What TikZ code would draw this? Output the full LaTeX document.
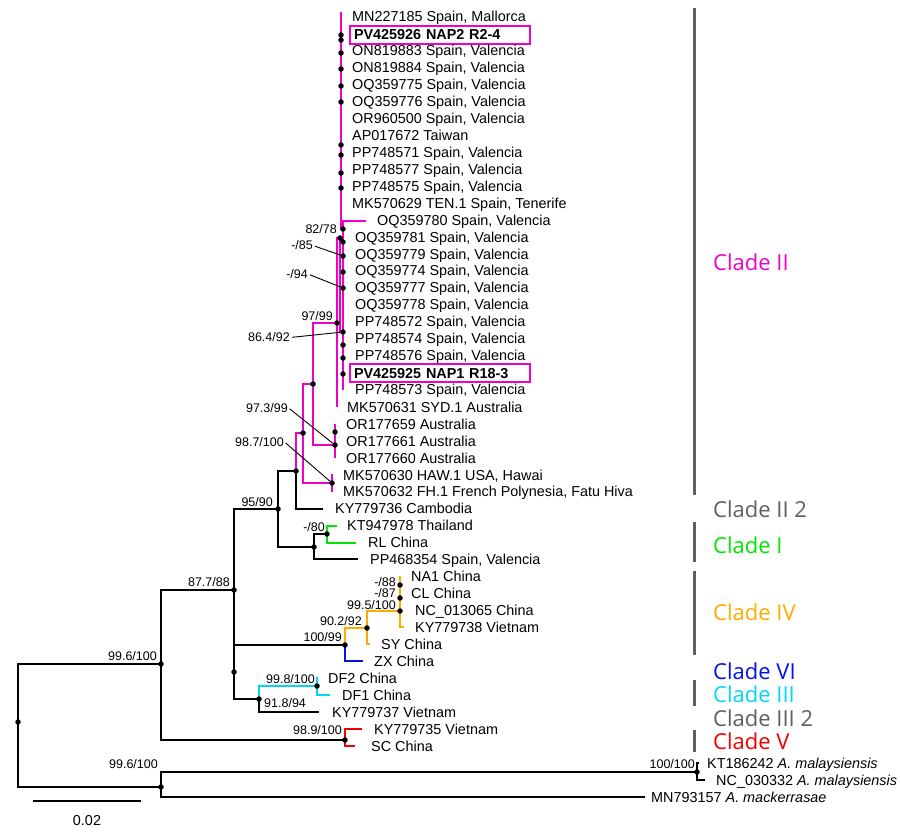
\documentclass[tikz,border=0pt]{standalone}
\usepackage{fontspec}
\setmainfont{Liberation Sans}
\newfontfamily\cladefam{Open Sans}

\definecolor{cpink}{RGB}{240,0,200}
\definecolor{cgreen}{RGB}{0,230,0}
\definecolor{corange}{RGB}{255,170,0}
\definecolor{cblue}{RGB}{0,20,230}
\definecolor{ccyan}{RGB}{0,215,245}
\definecolor{cred}{RGB}{240,0,0}
\definecolor{cgray}{RGB}{95,95,95}

\newcommand{\taxsize}{\fontsize{14.4}{17}\selectfont}
\newcommand{\bssize}{\fontsize{12.5}{14}\selectfont}
\newcommand{\cladesize}{\cladefam\fontsize{22}{26}\selectfont}

\tikzset{
  br/.style={line width=2pt},
  pk/.style={br, draw=cpink},
  gr/.style={br, draw=cgreen},
  og/.style={br, draw=corange},
  bl/.style={br, draw=cblue},
  cy/.style={br, draw=ccyan},
  rd/.style={br, draw=cred},
  nd/.style={circle, fill=black, inner sep=0pt, minimum size=5.5pt},
  tax/.style={anchor=west, inner sep=0pt, font=\taxsize, text height=10.5pt, text depth=0.5pt},
  boxtax/.style={anchor=west, draw=cpink, line width=2pt, inner xsep=4pt, inner ysep=0pt,
    text width=172pt, minimum height=18pt, font=\taxsize\bfseries, text height=10.5pt, text depth=0.5pt},
  bs/.style={anchor=base east, inner sep=0pt, font=\bssize},
  lead/.style={line width=0.9pt, shorten <=2pt},
  clade/.style={anchor=west, inner sep=0pt, font=\cladesize},
  cbar/.style={line width=3pt, draw=cgray}
}

\begin{document}
\begin{tikzpicture}[x=1pt, y=-1pt]

\useasboundingbox (0,0) rectangle (900,834);

% Noeuds internes
\coordinate (root) at (18,722);
\coordinate (ing) at (161,664);
\coordinate (outg) at (161,787);
\coordinate (n877) at (234,590);
\coordinate (nB) at (234,672);
\coordinate (n9590) at (278,509);
\coordinate (nII) at (296,471);
\coordinate (nIIa) at (303,433);
\coordinate (nIIb) at (313,384);
\coordinate (n9799) at (337,323);
\coordinate (n8278) at (340,238);
\coordinate (nM238) at (343,238);
\coordinate (n864) at (343,332);
\coordinate (n7878) at (343,229);
\coordinate (nAus) at (335,445);
\coordinate (nHaw) at (332,483);
\coordinate (nI) at (314,547);
\coordinate (n80) at (327,534);
\coordinate (n10099) at (345,645);
\coordinate (n902) at (367,628);
\coordinate (n995) at (400,611);
\coordinate (n918) at (259,699);
\coordinate (n998) at (317,686);
\coordinate (n989) at (345,740);
\coordinate (n100) at (697,772);

% Extremites des branches
\coordinate (tMN227) at (341,12);
\coordinate (tOQ780) at (366,221);
\coordinate (tPP573) at (343,390);
\coordinate (tMK631) at (337,407);
\coordinate (tAus1) at (335,424);
\coordinate (tAus3) at (335,458);
\coordinate (tHaw1) at (332,474);
\coordinate (tHaw2) at (332,492);
\coordinate (tKY736) at (323,508.5);
\coordinate (tKT947) at (337,525.5);
\coordinate (tRL) at (356,542.5);
\coordinate (tPP468) at (358,559);
\coordinate (tNA1) at (400,576);
\coordinate (tKY738) at (404,627);
\coordinate (tSY) at (370,644);
\coordinate (tZX) at (363,661);
\coordinate (tDF2) at (317,677);
\coordinate (tDF1) at (330,695);
\coordinate (tKY737) at (319,712);
\coordinate (tKY735) at (362,729);
\coordinate (tSC) at (355,746);
\coordinate (tKT) at (699,763);
\coordinate (tNC) at (705,780);
\coordinate (tMN) at (645,797);

% Branches noires
\draw[br] (root) |- (ing);
\draw[br] (root) |- (outg);
\draw[br] (ing) |- (n877);
\draw[br] (ing) |- (n989);
\draw[br] (n877) |- (n9590);
\draw[br] (n877) -- (nB);
\draw[br] (nB) |- (n10099);
\draw[br] (nB) |- (n918);
\draw[br] (n9590) |- (nII);
\draw[br] (n9590) |- (nI);
\draw[br] (nII) |- (tKY736);
\draw[br] (nI) |- (n80);
\draw[br] (nI) |- (tPP468);
\draw[br] (n918) |- (tKY737);
\draw[br] (outg) |- (n100);
\draw[br] (outg) |- (tMN);
\draw[br] (n100) |- (tKT);
\draw[br] (n100) |- (tNC);

% Clade II
\draw[pk] (nII) |- (nIIa);
\draw[pk] (nIIa) |- (nIIb);
\draw[pk] (nIIa) |- (nHaw);
\draw[pk] (nIIb) |- (n9799);
\draw[pk] (nIIb) |- (nAus);
\draw[pk] (tHaw1) -- (tHaw2);
\draw[pk] (tAus1) -- (tAus3);
\draw[pk] (n9799) |- (nM238);
\draw[pk] (n9799) -- (tMK631);
\draw[pk] (n8278) |- (n864);
\draw[pk] (tMN227) |- (n7878);
\draw[pk] (tOQ780) -| (tPP573);

% Clades I, IV, VI, III, V
\draw[gr] (n80) |- (tKT947);
\draw[gr] (n80) |- (tRL);
\draw[og] (n10099) |- (n902);
\draw[bl] (n10099) |- (tZX);
\draw[og] (n902) |- (n995);
\draw[og] (n902) |- (tSY);
\draw[og] (n995) -- (tNA1);
\draw[og] (n995) |- (tKY738);
\draw[cy] (n918) |- (n998);
\draw[cy] (n998) -- (tDF2);
\draw[cy] (n998) |- (tDF1);
\draw[rd] (n989) |- (tKY735);
\draw[rd] (n989) |- (tSC);

% Points des noeuds
\node[nd] (d35) at (341,35) {};
\node[nd] (d40) at (341,40) {};
\node[nd] (d53) at (341,53) {};
\node[nd] (d69) at (341,69) {};
\node[nd] (d86) at (341,86) {};
\node[nd] (d102) at (341,102) {};
\node[nd] (d145) at (341,145) {};
\node[nd] (d155) at (341,155) {};
\node[nd] (d173) at (341,173) {};
\node[nd] (d188) at (341,188) {};
\node[nd] (d229) at (n7878) {};
\node[nd] (d238) at (n8278) {};
\node[nd] (d242) at (343,242) {};
\node[nd] (d256) at (343,256) {};
\node[nd] (d272) at (343,272) {};
\node[nd] (d288) at (343,288) {};
\node[nd] (d323) at (n9799) {};
\node[nd] (d332) at (n864) {};
\node[nd] (d345) at (343,345) {};
\node[nd] (d358) at (343,358) {};
\node[nd] (d374) at (343,374) {};
\node[nd] (d384) at (nIIb) {};
\node[nd] (d432) at (335,432) {};
\node[nd] (d445) at (nAus) {};
\node[nd] (d433) at (nIIa) {};
\node[nd] (d471) at (nII) {};
\node[nd] (d483) at (nHaw) {};
\node[nd] (d509) at (n9590) {};
\node[nd] (d534) at (n80) {};
\node[nd] (d547) at (nI) {};
\node[nd] (d590) at (n877) {};
\node[nd] (d585) at (400,585) {};
\node[nd] (d598) at (400,598) {};
\node[nd] (d611) at (n995) {};
\node[nd] (d628) at (n902) {};
\node[nd] (d645) at (n10099) {};
\node[nd] (d664) at (ing) {};
\node[nd] (d672) at (nB) {};
\node[nd] (d686) at (n998) {};
\node[nd] (d699) at (n918) {};
\node[nd] (d722) at (root) {};
\node[nd] (d740) at (n989) {};
\node[nd] (d772) at (n100) {};
\node[nd] (d787) at (outg) {};

% Valeurs de support
\node[bs] (b8278) at (337,234) {82/78};
\node[bs] (b85) at (313,250) {-/85};
\node[bs] (b94) at (308,278.5) {-/94};
\node[bs] (b9799) at (333,320.5) {97/99};
\node[bs] (b864) at (290,342) {86.4/92};
\node[bs] (b973) at (288,412) {97.3/99};
\node[bs] (b987) at (284,446) {98.7/100};
\node[bs] (b9590) at (273,506.5) {95/90};
\node[bs] (b80) at (325,531.5) {-/80};
\node[bs] (b877) at (230,586.5) {87.7/88};
\node[bs] (b88) at (396,586.5) {-/88};
\node[bs] (b87) at (396,597.5) {-/87};
\node[bs] (b995) at (396,609.5) {99.5/100};
\node[bs] (b902) at (362,625.5) {90.2/92};
\node[bs] (b10099) at (342,641.5) {100/99};
\node[bs] (b996a) at (157,660.5) {99.6/100};
\node[bs] (b998) at (315,683.5) {99.8/100};
\node[bs, anchor=base west] (b918) at (264,707) {91.8/94};
\node[bs] (b989) at (342,734.5) {98.9/100};
\node[bs] (b996b) at (158,768.5) {99.6/100};
\node[bs] (b100) at (695,768.5) {100/100};

% Traits de rappel
\draw[lead] (b85.east) -- (d256);
\draw[lead] (b94.east) -- (d288);
\draw[lead] (b864.east) -- (d332);
\draw[lead] (b973.east) -- (d445);
\draw[lead] (b987.east) -- (d483);

% Taxons
\node[tax] (MN227185) at (352,17) {MN227185 Spain, Mallorca};
\node[boxtax] (PV425926) at (349,35) {PV425926 NAP2 R2-4};
\node[tax] (ON819883) at (352,51) {ON819883 Spain, Valencia};
\node[tax] (ON819884) at (352,68) {ON819884 Spain, Valencia};
\node[tax] (OQ359775) at (352,85) {OQ359775 Spain, Valencia};
\node[tax] (OQ359776) at (352,102) {OQ359776 Spain, Valencia};
\node[tax] (OR960500) at (352,119) {OR960500 Spain, Valencia};
\node[tax] (AP017672) at (352,136) {AP017672 Taiwan};
\node[tax] (PP748571) at (352,153) {PP748571 Spain, Valencia};
\node[tax] (PP748577) at (352,170) {PP748577 Spain, Valencia};
\node[tax] (PP748575) at (352,186.5) {PP748575 Spain, Valencia};
\node[tax] (MK570629) at (352,203.5) {MK570629 TEN.1 Spain, Tenerife};
\node[tax] (OQ359780) at (377,220.5) {OQ359780 Spain, Valencia};
\node[tax] (OQ359781) at (355,237.5) {OQ359781 Spain, Valencia};
\node[tax] (OQ359779) at (355,254.5) {OQ359779 Spain, Valencia};
\node[tax] (OQ359774) at (355,271) {OQ359774 Spain, Valencia};
\node[tax] (OQ359777) at (355,288) {OQ359777 Spain, Valencia};
\node[tax] (OQ359778) at (355,305) {OQ359778 Spain, Valencia};
\node[tax] (PP748572) at (355,322) {PP748572 Spain, Valencia};
\node[tax] (PP748574) at (355,339) {PP748574 Spain, Valencia};
\node[tax] (PP748576) at (355,356) {PP748576 Spain, Valencia};
\node[boxtax] (PV425925) at (349,373) {PV425925 NAP1 R18-3};
\node[tax] (PP748573) at (355,390) {PP748573 Spain, Valencia};
\node[tax] (MK570631) at (347,407) {MK570631 SYD.1 Australia};
\node[tax] (OR177659) at (346,424) {OR177659 Australia};
\node[tax] (OR177661) at (346,441) {OR177661 Australia};
\node[tax] (OR177660) at (346,458) {OR177660 Australia};
\node[tax] (MK570630) at (343,475) {MK570630 HAW.1 USA, Hawai};
\node[tax] (MK570632) at (343,491.5) {MK570632 FH.1 French Polynesia, Fatu Hiva};
\node[tax] (KY779736) at (335,508.5) {KY779736 Cambodia};
\node[tax] (KT947978) at (347,525.5) {KT947978 Thailand};
\node[tax] (RL) at (368,542.5) {RL China};
\node[tax] (PP468354) at (370,559) {PP468354 Spain, Valencia};
\node[tax] (NA1) at (411,576) {NA1 China};
\node[tax] (CL) at (411,593) {CL China};
\node[tax] (NC013065) at (415,610) {NC\_013065 China};
\node[tax] (KY779738) at (415,627) {KY779738 Vietnam};
\node[tax] (SY) at (381,644) {SY China};
\node[tax] (ZX) at (374,661) {ZX China};
\node[tax] (DF2) at (328,678) {DF2 China};
\node[tax] (DF1) at (342,695) {DF1 China};
\node[tax] (KY779737) at (332,712) {KY779737 Vietnam};
\node[tax] (KY779735) at (374,729) {KY779735 Vietnam};
\node[tax] (SC) at (371,746) {SC China};
\node[tax] (KT186242) at (707,763) {KT186242 \textit{A. malaysiensis}};
\node[tax] (NC030332) at (716,780) {NC\_030332 \textit{A. malaysiensis}};
\node[tax] (MN793157) at (651,797) {MN793157 \textit{A. mackerrasae}};

% Barres et noms des clades
\coordinate (cb1) at (694,8);
\coordinate (cb2) at (694,495);
\coordinate (cb3) at (694,522);
\coordinate (cb4) at (694,562);
\coordinate (cb5) at (694,571);
\coordinate (cb6) at (694,655);
\coordinate (cb7) at (694,680);
\coordinate (cb8) at (694,706);
\coordinate (cb9) at (694,730);
\coordinate (cb10) at (694,752);
\draw[cbar] (cb1) -- (cb2);
\draw[cbar] (cb3) -- (cb4);
\draw[cbar] (cb5) -- (cb6);
\draw[cbar] (cb7) -- (cb8);
\draw[cbar] (cb9) -- (cb10);
\node[clade, cpink] (cII) at (713,262) {Clade II};
\node[clade, cgray] (cII2) at (713,509) {Clade II 2};
\node[clade, cgreen] (cI) at (713,545) {Clade I};
\node[clade, corange] (cIV) at (713,612) {Clade IV};
\node[clade, cblue] (cVI) at (713,671) {Clade VI};
\node[clade, ccyan] (cIII) at (713,694) {Clade III};
\node[clade, cgray] (cIII2) at (713,718) {Clade III 2};
\node[clade, cred] (cV) at (713,741) {Clade V};

% Echelle
\coordinate (sb1) at (33,801);
\coordinate (sb2) at (141,801);
\draw[br] (sb1) -- (sb2);
\node[tax, anchor=center] (sbl) at (87,820) {0.02};

\end{tikzpicture}
\end{document}
